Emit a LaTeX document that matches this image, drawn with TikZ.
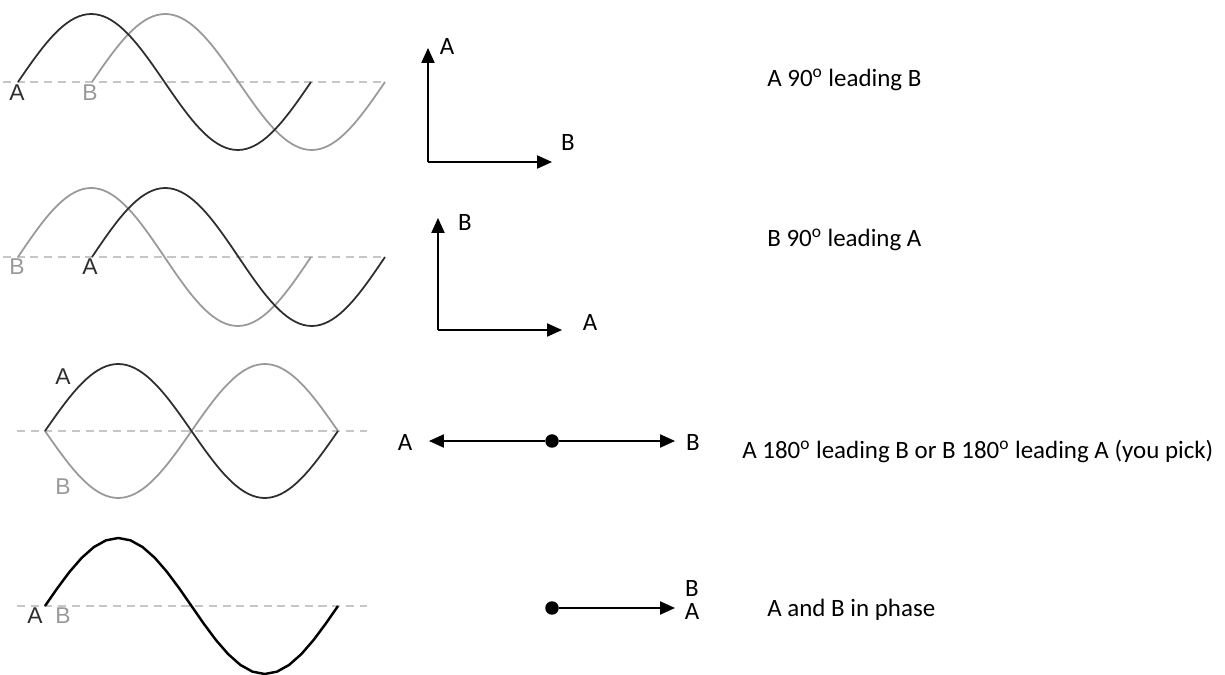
\documentclass[tikz,border=0pt]{standalone}
\usepackage{fontspec}
\setmainfont{Carlito}
\newfontfamily\wavefont{Liberation Sans}
\usetikzlibrary{arrows.meta}
\definecolor{curveA}{HTML}{2E2E2E}
\definecolor{curveB}{HTML}{999999}
\definecolor{zeroline}{HTML}{C6C6C6}
\tikzset{
  zeroaxis/.style={zeroline,line width=1.5pt,dash pattern=on 4.6pt off 3.2pt},
  wavea/.style={curveA,line width=1pt},
  waveb/.style={curveB,line width=1pt},
  wavesum/.style={black,line width=1.4pt,line join=round},
  wlbla/.style={font=\wavefont\fontsize{13}{15}\selectfont,text=curveA,inner sep=0pt},
  wlblb/.style={wlbla,text=curveB},
  phasor/.style={-{Triangle[length=8.5pt,width=7.5pt]},line width=0.8pt},
  plbl/.style={font=\fontsize{14.2}{17}\selectfont,inner sep=0pt},
  caption/.style={plbl,anchor=base west},
  origin/.style={circle,fill=black,inner sep=0pt,minimum size=0.27cm},
}

\begin{document}
\begin{tikzpicture}[x=0.02cm,y=-0.02cm]
  \useasboundingbox (0,0) rectangle (1225,675);
  % Row 1: A 90 ahead of B
  \draw[zeroaxis] (3,82) -- (385,82);
  \draw[waveb] plot[domain=0:360,samples=73] ({92+\x/360*293},{82-68*sin(\x)});
  \draw[wavea] plot[domain=0:360,samples=73] ({18+\x/360*293},{82-68*sin(\x)});
  \node[wlbla] (w1a) at (17,93) {A};
  \node[wlblb] (w1b) at (90,93) {B};
  \coordinate (o1) at (428,162);
  \coordinate (t1a) at (428,48);
  \coordinate (t1b) at (552,162);
  \draw[phasor] (o1) -- (t1a);
  \draw[phasor] (o1) -- (t1b);
  \node[plbl] (p1a) at (447,47) {A};
  \node[plbl] (p1b) at (568,143) {B};
  \node[caption] (c1) at (767,87) {A 90\textsuperscript{o} leading B};
  % Row 2: B 90 ahead of A
  \draw[zeroaxis] (3,257) -- (385,257);
  \draw[waveb] plot[domain=0:360,samples=73] ({18+\x/360*293},{257-69*sin(\x)});
  \draw[wavea] plot[domain=0:360,samples=73] ({92+\x/360*293},{257-69*sin(\x)});
  \node[wlblb] (w2b) at (17,267) {B};
  \node[wlbla] (w2a) at (90,267) {A};
  \coordinate (o2) at (438,330);
  \coordinate (t2b) at (438,218);
  \coordinate (t2a) at (562,330);
  \draw[phasor] (o2) -- (t2b);
  \draw[phasor] (o2) -- (t2a);
  \node[plbl] (p2b) at (465,223) {B};
  \node[plbl] (p2a) at (590,322) {A};
  \node[caption] (c2) at (767,247) {B 90\textsuperscript{o} leading A};
  % Row 3: opposite phase
  \draw[zeroaxis] (17,431) -- (367,431);
  \draw[waveb] plot[domain=0:360,samples=73] ({45+\x/360*293},{431+67*sin(\x)});
  \draw[wavea] plot[domain=0:360,samples=73] ({45+\x/360*293},{431-67*sin(\x)});
  \node[wlbla] (w3a) at (63,377) {A};
  \node[wlblb] (w3b) at (63,487) {B};
  \node[origin] (o3) at (552,441) {};
  \coordinate (t3a) at (429,441);
  \coordinate (t3b) at (675,441);
  \draw[phasor] (o3) -- (t3a);
  \draw[phasor] (o3) -- (t3b);
  \node[plbl] (p3a) at (405,442) {A};
  \node[plbl] (p3b) at (693,442) {B};
  \node[caption] (c3) at (742,459) {A 180\textsuperscript{o} leading B or B 180\textsuperscript{o} leading A (you pick)};
  % Row 4: in phase
  \draw[zeroaxis] (17,606) -- (367,606);
  \draw[wavesum] plot[domain=0:360,samples=25] ({45+\x/360*293},{606-68*sin(\x)});
  \node[wlbla] (w4a) at (35,616) {A};
  \node[wlblb] (w4b) at (63,616) {B};
  \node[origin] (o4) at (552,608) {};
  \coordinate (t4) at (675,608);
  \draw[phasor] (o4) -- (t4);
  \node[plbl] (p4b) at (692,588) {B};
  \node[plbl] (p4a) at (692,611) {A};
  \node[caption] (c4) at (767,617) {A and B in phase};
\end{tikzpicture}
\end{document}
